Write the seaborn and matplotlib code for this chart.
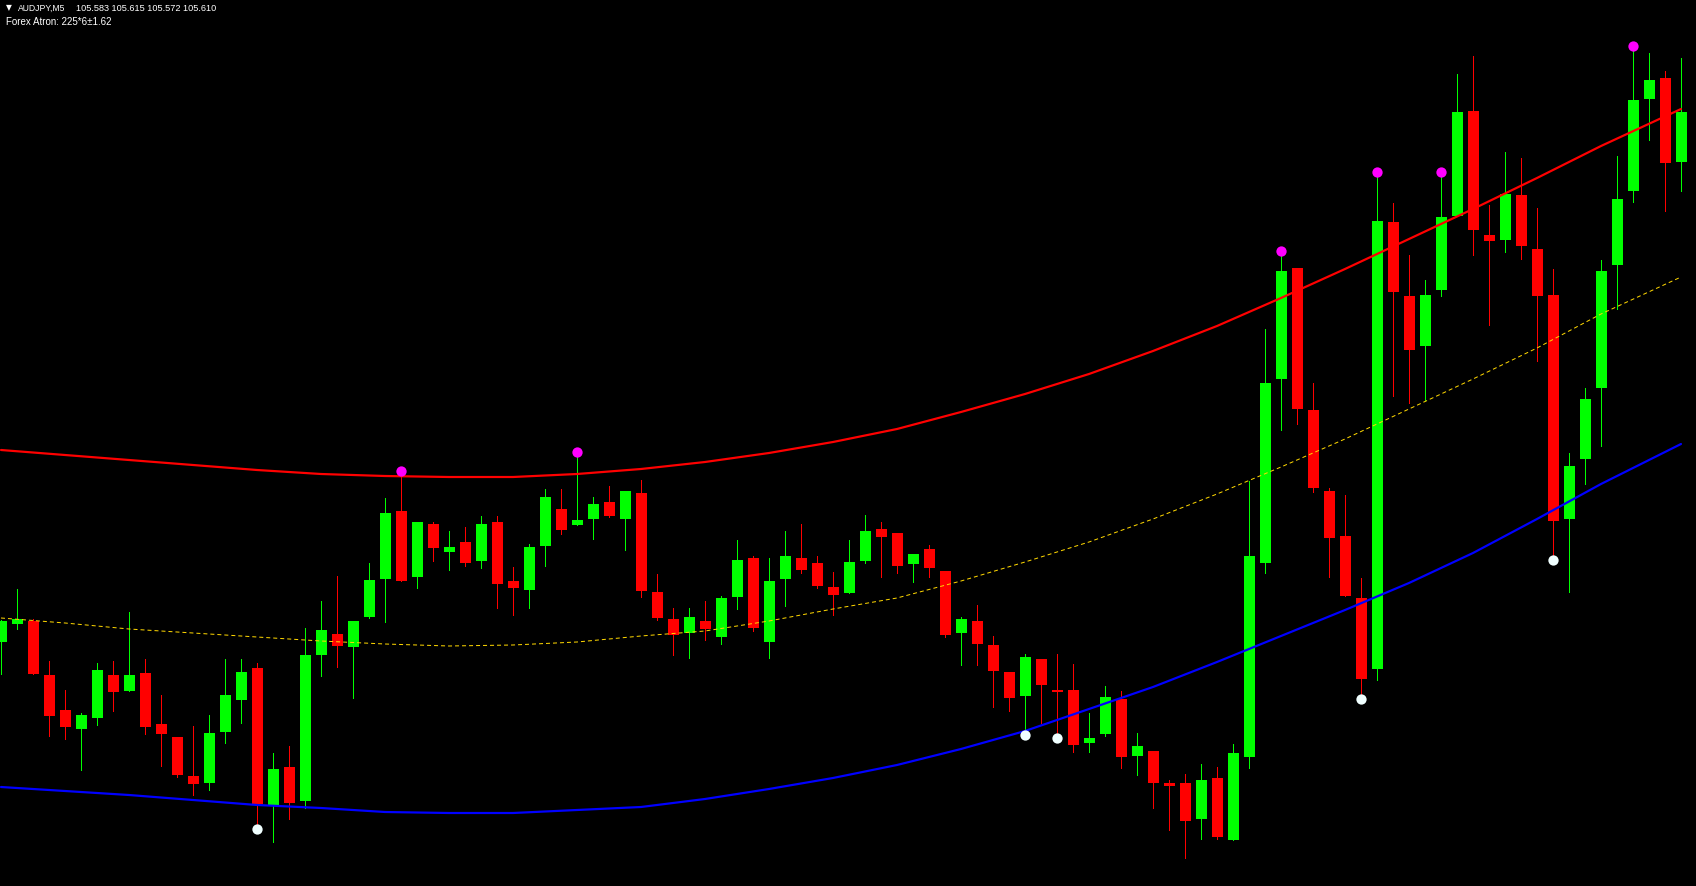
import numpy as np
import pandas as pd
import matplotlib
matplotlib.use("Agg")
import matplotlib.pyplot as plt
import seaborn as sns

# ---------------- data (AUDJPY, M5) ----------------
opens = [105.080, 105.098, 105.101, 105.047, 105.012, 104.993, 105.004, 105.047, 105.031, 105.049,
         104.998, 104.985, 104.946, 104.939, 104.990, 105.022, 105.054, 104.916, 104.955, 104.921,
         105.067, 105.088, 105.075, 105.105, 105.143, 105.211, 105.145, 105.198, 105.170, 105.180,
         105.161, 105.200, 105.141, 105.132, 105.176, 105.213, 105.197, 105.203, 105.220, 105.203,
         105.229, 105.130, 105.103, 105.089, 105.101, 105.085, 105.125, 105.164, 105.080, 105.143,
         105.164, 105.159, 105.135, 105.129, 105.161, 105.193, 105.189, 105.158, 105.173, 105.151,
         105.089, 105.101, 105.077, 105.050, 105.026, 105.063, 105.032, 105.032, 104.979, 104.988,
         105.023, 104.966, 104.971, 104.939, 104.939, 104.903, 104.944, 104.882, 104.965, 105.159,
         105.343, 105.454, 105.312, 105.231, 105.186, 105.124, 105.053, 105.500, 105.426, 105.376,
         105.432, 105.506, 105.611, 105.487, 105.482, 105.527, 105.473, 105.427, 105.203, 105.263,
         105.334, 105.457, 105.531, 105.623, 105.644, 105.560]
highs = [105.102, 105.133, 105.103, 105.061, 105.032, 105.009, 105.059, 105.061, 105.110, 105.063,
         105.027, 104.985, 104.996, 105.007, 105.063, 105.063, 105.059, 104.969, 104.976, 105.094,
         105.121, 105.146, 105.101, 105.159, 105.224, 105.245, 105.200, 105.200, 105.191, 105.195,
         105.206, 105.206, 105.155, 105.178, 105.233, 105.233, 105.266, 105.225, 105.236, 105.231,
         105.242, 105.148, 105.114, 105.114, 105.121, 105.126, 105.182, 105.166, 105.164, 105.191,
         105.198, 105.166, 105.150, 105.182, 105.207, 105.200, 105.189, 105.168, 105.177, 105.151,
         105.105, 105.117, 105.086, 105.050, 105.068, 105.063, 105.068, 105.058, 105.009, 105.036,
         105.031, 104.989, 104.971, 104.942, 104.948, 104.958, 104.955, 104.978, 105.241, 105.393,
         105.466, 105.454, 105.339, 105.234, 105.227, 105.144, 105.546, 105.519, 105.467, 105.442,
         105.545, 105.648, 105.666, 105.517, 105.570, 105.564, 105.514, 105.453, 105.269, 105.334,
         105.462, 105.566, 105.671, 105.669, 105.651, 105.664]
lows = [105.048, 105.093, 105.048, 104.986, 104.983, 104.952, 104.997, 105.011, 105.031, 104.988,
        104.956, 104.945, 104.927, 104.932, 104.979, 104.999, 104.896, 104.880, 104.903, 104.914,
        105.046, 105.055, 105.024, 105.104, 105.100, 105.141, 105.134, 105.161, 105.152, 105.156,
        105.154, 105.114, 105.107, 105.114, 105.156, 105.188, 105.197, 105.183, 105.205, 105.172,
        105.125, 105.102, 105.067, 105.064, 105.082, 105.078, 105.113, 105.091, 105.064, 105.116,
        105.149, 105.134, 105.107, 105.129, 105.159, 105.145, 105.149, 105.140, 105.145, 105.085,
        105.057, 105.057, 105.015, 105.011, 104.993, 104.999, 104.988, 104.970, 104.970, 104.986,
        104.954, 104.947, 104.914, 104.892, 104.864, 104.883, 104.883, 104.882, 104.954, 105.149,
        105.292, 105.298, 105.230, 105.145, 105.126, 105.028, 105.042, 105.326, 105.319, 105.322,
        105.426, 105.506, 105.467, 105.397, 105.470, 105.463, 105.361, 105.166, 105.130, 105.238,
        105.276, 105.413, 105.520, 105.582, 105.511, 105.531]
closes = [105.101, 105.103, 105.048, 105.006, 104.995, 105.007, 105.052, 105.030, 105.047, 104.995,
          104.988, 104.947, 104.938, 104.989, 105.027, 105.050, 104.918, 104.953, 104.919, 105.067,
          105.092, 105.076, 105.101, 105.142, 105.209, 105.141, 105.200, 105.174, 105.175, 105.159,
          105.198, 105.138, 105.134, 105.175, 105.225, 105.192, 105.202, 105.218, 105.206, 105.231,
          105.131, 105.104, 105.087, 105.105, 105.093, 105.124, 105.162, 105.094, 105.141, 105.166,
          105.152, 105.136, 105.127, 105.160, 105.191, 105.185, 105.156, 105.168, 105.154, 105.087,
          105.103, 105.078, 105.051, 105.024, 105.065, 105.037, 105.030, 104.977, 104.984, 105.025,
          104.965, 104.976, 104.939, 104.936, 104.901, 104.942, 104.885, 104.969, 105.166, 105.339,
          105.451, 105.313, 105.234, 105.184, 105.126, 105.043, 105.501, 105.430, 105.372, 105.427,
          105.505, 105.610, 105.492, 105.481, 105.528, 105.476, 105.426, 105.201, 105.256, 105.323,
          105.451, 105.523, 105.622, 105.642, 105.559, 105.610]

# channel lines (read at every 4th bar)
band_idx = [0, 4, 8, 12, 16, 20, 24, 28, 32, 36, 40, 44, 48, 52, 56, 60, 64, 68, 72,
            76, 80, 84, 88, 92, 96, 100, 105]
upper_band = [105.272, 105.267, 105.262, 105.257, 105.252, 105.248, 105.246, 105.245, 105.245,
              105.248, 105.253, 105.260, 105.269, 105.280, 105.293, 105.310, 105.328, 105.348,
              105.371, 105.396, 105.424, 105.453, 105.483, 105.513, 105.544, 105.576, 105.613]
middle_band = [105.104, 105.099, 105.093, 105.089, 105.085, 105.081, 105.078, 105.076, 105.077,
               105.080, 105.086, 105.091, 105.101, 105.113, 105.124, 105.141, 105.160, 105.180,
               105.203, 105.228, 105.255, 105.283, 105.313, 105.343, 105.374, 105.408, 105.445]
lower_band = [104.935, 104.931, 104.927, 104.922, 104.917, 104.914, 104.910, 104.909, 104.909,
              104.912, 104.915, 104.923, 104.933, 104.944, 104.957, 104.973, 104.991, 105.013,
              105.035, 105.060, 105.086, 105.112, 105.139, 105.169, 105.203, 105.238, 105.278]

# signal dots
top_signal_idx = [25, 36, 80, 86, 90, 102]
top_signal_val = [105.251, 105.270, 105.471, 105.550, 105.550, 105.676]
bottom_signal_idx = [16, 64, 66, 85, 97]
bottom_signal_val = [104.893, 104.987, 104.984, 105.023, 105.162]

header_symbol = "AUDJPY,M5"
header_prices = "105.583 105.615 105.572 105.610"
header_indicator = "Forex Atron: 225*6\u00b11.62"

# ---------------- styling ----------------
sns.set_theme(style="dark", rc={"axes.facecolor": "black", "figure.facecolor": "black"})
plt.rcParams['font.family'] = ['Liberation Sans', 'DejaVu Sans']

W, H = 1696, 887
fig = plt.figure(figsize=(W / 100, H / 100), dpi=100, facecolor="black")
ax = fig.add_axes([0, 0, 1, 1])
ax.set_facecolor("black")

df = pd.DataFrame({"open": opens, "high": highs, "low": lows, "close": closes})
df["idx"] = np.arange(len(df))
up = df["close"] >= df["open"]
colors = np.where(up, "#00FF00", "#FF0000")
PX = 0.72  # one pixel in points

ax.vlines(df["idx"], df["low"], df["high"], colors=colors, linewidth=1.0 * PX,
          antialiased=False, zorder=2)
body_bottom = np.minimum(df["open"], df["close"])
body_h = np.maximum((df["close"] - df["open"]).abs(), 0.0018)
ax.bar(df["idx"], body_h, bottom=body_bottom, width=0.6875, color=colors,
       linewidth=0, antialiased=False, zorder=3)

sns.lineplot(x=band_idx, y=upper_band, color="#FF0000", linewidth=2.2 * PX, ax=ax, zorder=4)
sns.lineplot(x=band_idx, y=lower_band, color="#0000FF", linewidth=2.2 * PX, ax=ax, zorder=4)
sns.lineplot(x=band_idx, y=middle_band, color="#FFD700", linewidth=1.0 * PX, ax=ax, zorder=4)
ax.lines[-1].set_dashes([4, 3])

sns.scatterplot(x=top_signal_idx, y=top_signal_val, color="#FF00FF", s=55,
                linewidth=0, ax=ax, zorder=6)
sns.scatterplot(x=bottom_signal_idx, y=bottom_signal_val, color="#F0FFFF", s=55,
                linewidth=0, ax=ax, zorder=6)

ax.set_xlim(-0.0625, (W - 1) / 16)
ax.set_ylim(105.723 - H / 1000, 105.723)
ax.set_axis_off()
if ax.get_legend() is not None:
    ax.get_legend().remove()

def fx(x):
    return x / W

def fy(y):
    return 1 - y / H

fig.text(fx(5.5), fy(10.5), "\u25bc", color="white", fontsize=5.5,
         family=["DejaVu Sans"], va="baseline", ha="left")
fig.text(fx(18), fy(11), header_symbol, color="white", fontsize=6.2, va="baseline", ha="left")
fig.text(fx(76), fy(11), header_prices, color="white", fontsize=6.6, va="baseline", ha="left")
fig.text(fx(5.5), fy(25.3), header_indicator, color="white", fontsize=7.0, va="baseline", ha="left")

fig.savefig("out.png", dpi=100, facecolor="black")
